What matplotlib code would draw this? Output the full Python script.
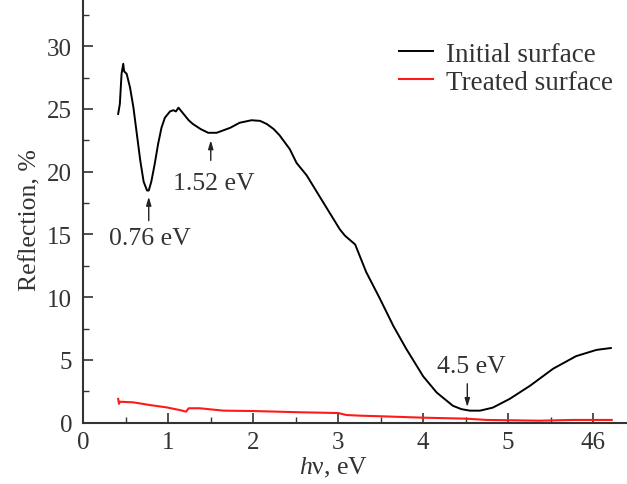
import numpy as np
import matplotlib.pyplot as plt
from matplotlib.ticker import MultipleLocator

plt.rcParams['font.family'] = ['Liberation Serif', 'DejaVu Serif']
plt.rcParams['mathtext.fontset'] = 'custom'
plt.rcParams['mathtext.rm'] = 'Liberation Serif'
plt.rcParams['mathtext.it'] = 'Liberation Serif:italic'

# initial surface (photon energy, eV ; reflection, %)
e_init = [0.41, 0.43, 0.45, 0.47, 0.48, 0.51, 0.55, 0.59, 0.63, 0.67, 0.71, 0.75,
          0.77, 0.80, 0.84, 0.88, 0.92, 0.96, 1.02, 1.06, 1.09, 1.12, 1.18, 1.24,
          1.29, 1.38, 1.47, 1.57, 1.73, 1.84, 1.98, 2.08, 2.16, 2.24, 2.31, 2.43,
          2.51, 2.63, 2.82, 3.02, 3.08, 3.20, 3.33, 3.49, 3.65, 3.80, 4.00, 4.16,
          4.35, 4.45, 4.55, 4.67, 4.82, 5.02, 5.26, 5.53, 5.80, 6.04, 6.21]
r_init = [24.6, 25.4, 27.8, 28.6, 28.0, 27.8, 26.7, 25.1, 23.0, 20.9, 19.2, 18.5,
          18.5, 19.2, 20.6, 22.2, 23.5, 24.3, 24.8, 24.9, 24.8, 25.1, 24.6, 24.1,
          23.8, 23.4, 23.1, 23.1, 23.5, 23.9, 24.1, 24.05, 23.8, 23.4, 22.9, 21.8,
          20.7, 19.7, 17.6, 15.4, 14.9, 14.2, 12.0, 9.9, 7.7, 5.9, 3.7, 2.4,
          1.35, 1.08, 0.96, 0.96, 1.2, 1.9, 2.95, 4.3, 5.3, 5.8, 5.95]

# treated surface
e_treat = [0.41, 0.42, 0.43, 0.59, 0.78, 0.98, 1.14, 1.21, 1.24, 1.37, 1.65, 2.0,
           2.55, 3.0, 3.10, 3.26, 3.51, 4.0, 4.51, 4.75, 5.37, 5.76, 6.22]
r_treat = [1.9, 1.5, 1.67, 1.62, 1.41, 1.22, 1.0, 0.88, 1.15, 1.15, 0.96, 0.93,
           0.83, 0.77, 0.61, 0.56, 0.51, 0.4, 0.32, 0.22, 0.16, 0.22, 0.22]

# annotated minima: label, arrow x, arrow tip y, arrow tail y, text x, text y
notes = [("0.76 eV", 0.77, 18.0, 16.1, 0.78, 14.7),
         ("1.52 eV", 1.50, 22.5, 20.9, 1.54, 19.1),
         ("4.5 eV", 4.52, 1.25, 3.1, 4.57, 4.5)]

fig = plt.figure(figsize=(6.27, 4.85), dpi=100)
ax = fig.add_axes([0.1329, 0.1264, 0.8671, 0.8736])

ax.plot(e_init, r_init, color='black', lw=1.4, label='Initial surface')
ax.plot(e_treat, r_treat, color='#ff1a1a', lw=1.5, label='Treated surface')

for txt, xa, ytip, ytail, xt, yt in notes:
    ax.annotate('', xy=(xa, ytip), xytext=(xa, ytail),
                arrowprops=dict(arrowstyle='-|>,head_length=0.5,head_width=0.15',
                                color='#222222', lw=1.0, shrinkA=0, shrinkB=0))
    ax.text(xt, yt, txt, ha='center', va='center', fontsize=18.5, color='#333333')

ax.set_xlim(0, 6.4)
ax.set_ylim(0, 33.76)
ax.set_xticks([0, 1, 2, 3, 4, 5, 6])
ax.set_xticklabels(['0', '1', '2', '3', '4', '5', '46'])
ax.set_yticks([0, 5, 10, 15, 20, 25, 30])
ax.xaxis.set_minor_locator(MultipleLocator(0.5))
ax.yaxis.set_minor_locator(MultipleLocator(2.5))

for s in ['top', 'right']:
    ax.spines[s].set_visible(False)
for s in ['left', 'bottom']:
    ax.spines[s].set_linewidth(1.5)
    ax.spines[s].set_color('#333333')

ax.tick_params(which='both', direction='in', colors='#333333', labelsize=18)
ax.tick_params(which='major', length=7, width=1.2)
ax.tick_params(which='minor', length=4, width=1.0)
ax.tick_params(axis='y', pad=8)
ax.tick_params(axis='x', pad=6)

ax.set_xlabel(r'$h$ν, eV', fontsize=18.5, color='#333333')
ax.set_ylabel('Reflection, %', fontsize=18.5, color='#333333')
ax.xaxis.set_label_coords(0.461, -0.075)
ax.yaxis.set_label_coords(-0.077, 0.48)

leg = ax.legend(loc='upper right', bbox_to_anchor=(0.995, 0.925), frameon=False,
                fontsize=19.5, handlelength=1.25, handletextpad=0.5,
                labelspacing=0.12, borderaxespad=0)
for t in leg.get_texts():
    t.set_color('#333333')

fig.savefig('out.png', dpi=100)
